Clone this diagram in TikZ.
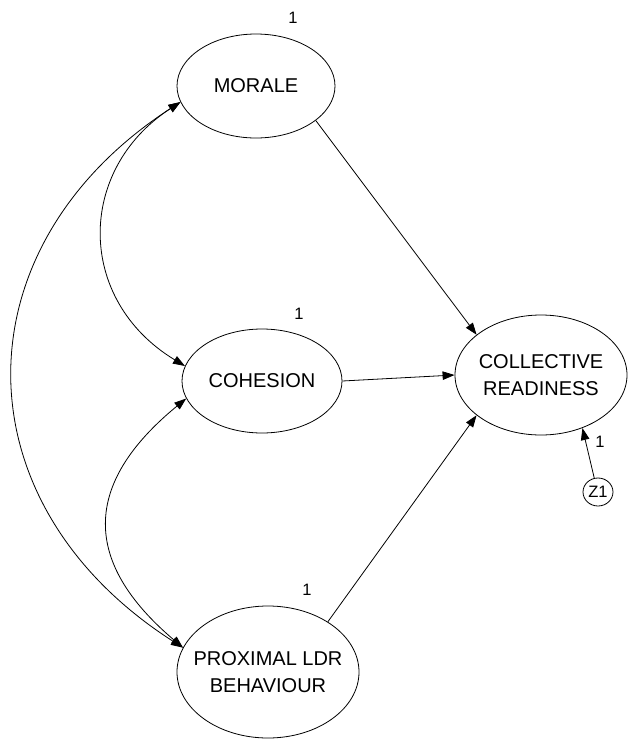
\documentclass[tikz,border=0pt]{standalone}
\usepackage{fontspec}
\setmainfont{Liberation Sans}
\usetikzlibrary{arrows.meta,shapes.geometric}
% a centred line that takes no width, so the ellipse keeps its given size
\newcommand{\zwline}[1]{\makebox[0pt][c]{#1}}
\begin{document}
\begin{tikzpicture}[x=1pt,y=-1pt,
  latent/.style={draw, ellipse, line width=0.8pt, inner sep=0pt, align=center,
    font=\fontsize{20}{26.7}\selectfont},
  errvar/.style={draw, ellipse, line width=0.8pt, inner sep=0pt,
    minimum width=30pt, minimum height=28pt, font=\fontsize{16.5}{18}\selectfont},
  tip/.tip={Triangle[length=12pt,width=8.5pt]},
  regpath/.style={line width=0.8pt, -tip},
  covpath/.style={line width=0.8pt, tip-tip},
  fixlabel/.style={font=\fontsize{16.5}{18}\selectfont, inner sep=0pt}]
\useasboundingbox (0,0) rectangle (630,740);

% latent variables
\node[latent, minimum width=158pt, minimum height=104pt] (morale) at (256,86) {\zwline{MORALE}};
\node[latent, minimum width=160pt, minimum height=104pt] (cohesion) at (262,381) {\zwline{COHESION}};
\node[latent, minimum width=182pt, minimum height=132pt] (proximal) at (268,672)
  {\zwline{PROXIMAL LDR}\\\zwline{BEHAVIOUR}};
\node[latent, minimum width=172pt, minimum height=120pt] (ready) at (541,375)
  {\zwline{COLLECTIVE}\\\zwline{READINESS}};
\node[errvar] (z1) at (598,492) {Z1};

% fixed variance labels
\node[fixlabel] (lm) at (293,18) {1};
\node[fixlabel] (lc) at (299,314) {1};
\node[fixlabel] (lp) at (307,590) {1};
\node[fixlabel] (lz) at (600,442) {1};

% regression paths
\draw[regpath] (morale.-30) -- (ready.148);
\draw[regpath] (cohesion.east) -- (ready.west);
\draw[regpath] (proximal.40) -- (ready.212);
\draw[regpath] (z1.105) -- (ready.-52.6);

% covariances
\draw[covpath] (morale.192.5) .. controls (76,170) and (76,300) .. (cohesion.169);
\draw[covpath] (morale.192.5) .. controls (-43,247) and (-43,503) .. (proximal.164);
\draw[covpath] (cohesion.193) .. controls (82,484) and (82,562) .. (proximal.164);
\end{tikzpicture}
\end{document}
